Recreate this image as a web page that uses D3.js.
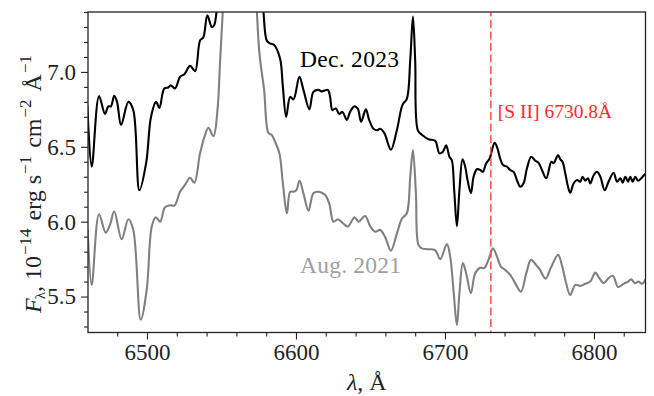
<!DOCTYPE html>
<html>
<head>
<meta charset="utf-8">
<script src="https://cdn.jsdelivr.net/npm/d3@7"></script>
<style>
  html, body { margin: 0; padding: 0; background: #fff; }
  svg { display: block; }
  text { font-family: "Liberation Serif", "Times New Roman", serif; }
</style>
</head>
<body>
<svg id="chart" width="654" height="396"></svg>
<script>
// ---- data ----
const decWave = [6460.0,6462.9,6467.8,6471.8,6474.0,6475.8,6478.0,6479.9,6482.6,6487.5,6490.8,6494.9,6499.4,6502.7,6506.1,6508.3,6511.6,6514.3,6515.9,6518.8,6522.2,6525.1,6528.9,6532.3,6535.6,6537.8,6540.5,6543.5,6545.0,6546.8,6552,6558,6563,6568,6574,6578.1,6580.4,6582.6,6585.3,6589.3,6591.2,6593.4,6596.1,6598.3,6602.3,6605.0,6609.0,6611.7,6615.1,6617.3,6621.4,6622.9,6624.5,6626.7,6629.0,6631.2,6634.1,6636.3,6639.2,6641.5,6643.7,6646.9,6649.1,6652.0,6654.3,6656.5,6659.4,6663.7,6667.7,6671.5,6674.4,6676.7,6678.5,6680.0,6681.8,6684.5,6688.9,6693.4,6696.3,6698.6,6700.8,6703.0,6704.6,6706.2,6708.0,6709.7,6711.8,6713.6,6715.1,6717.4,6719.2,6721.4,6723.7,6725.4,6727.7,6729.9,6733.3,6734.9,6737.1,6738.9,6741.6,6743.8,6746.0,6748.7,6750.5,6752.7,6755.0,6757.9,6760.6,6762.8,6765.1,6768.0,6771.4,6772.9,6774.5,6775.9,6777.4,6778.9,6780.8,6782.6,6784.1,6786.3,6788.6,6790.8,6792.4,6794.2,6796.0,6797.5,6799.8,6802.0,6804.3,6807.2,6809.8,6813.2,6815.5,6817.7,6819.3,6821.1,6822.9,6824.4,6826.0,6827.8,6829.6,6831.8,6834.5];
const decFlux = [6.77,6.367,6.838,6.72,6.77,6.77,6.84,6.80,6.645,6.80,6.745,6.21,6.39,6.70,6.80,6.76,6.89,6.896,6.91,6.89,6.967,6.985,7.04,7.005,7.21,7.23,7.378,7.30,7.31,7.41,7.9,8.6,9.0,8.7,7.9,7.41,7.21,7.19,7.18,7.09,6.90,6.70,6.833,6.816,6.967,6.88,6.75,6.867,6.88,6.87,6.88,6.833,6.745,6.756,6.72,6.733,6.68,6.733,6.77,6.755,6.667,6.75,6.68,6.62,6.61,6.62,6.59,6.48,6.61,6.78,6.82,7.08,7.37,7.08,6.61,6.58,6.55,6.54,6.456,6.467,6.51,6.433,6.41,6.21,5.97,6.21,6.416,6.367,6.28,6.19,6.30,6.35,6.345,6.333,6.39,6.42,6.527,6.50,6.42,6.378,6.367,6.345,6.333,6.267,6.233,6.255,6.355,6.433,6.407,6.393,6.345,6.29,6.40,6.39,6.42,6.445,6.416,6.40,6.32,6.233,6.193,6.255,6.278,6.267,6.30,6.273,6.29,6.255,6.31,6.333,6.30,6.21,6.267,6.327,6.267,6.29,6.26,6.30,6.267,6.30,6.267,6.30,6.273,6.29,6.32];

const augWave = [6460.2,6462.9,6467.8,6472.3,6475.2,6478.0,6483.0,6487.5,6490.8,6495.8,6499.8,6503.2,6505.9,6508.8,6512.1,6515.5,6518.4,6522.2,6525.5,6528.9,6531.8,6535.6,6539.0,6541.2,6544.6,6547.3,6549.1,6550.9,6555,6561,6567,6571,6573.7,6575.5,6578.6,6581.5,6583.8,6586.0,6588.9,6591.2,6593.9,6596.1,6598.3,6600.2,6602.4,6605.0,6608.4,6611.7,6615.1,6619.6,6622.3,6625.2,6628.2,6631.2,6634.8,6639.3,6641.9,6646.4,6649.8,6653.2,6656.5,6659.9,6663.7,6667.7,6671.1,6674.4,6676.7,6678.5,6680.5,6682.2,6684.5,6688.5,6693.4,6696.8,6701.3,6703.5,6705.7,6708.0,6709.7,6712.0,6714.2,6717.4,6720.3,6723.7,6726.3,6729.2,6732.2,6734.9,6737.5,6740.4,6743.8,6747.1,6751.0,6754.6,6757.7,6760.6,6763.5,6767.5,6771.0,6775.9,6778.5,6781.3,6784.1,6787.5,6790.8,6794.2,6797.5,6800.9,6803.6,6806.5,6809.8,6812.8,6816.2,6819.9,6822.9,6825.1,6827.4,6830.0,6832.3,6834.5];
const augFlux = [5.945,5.578,6.05,5.927,5.98,6.07,5.883,6.016,5.945,5.345,5.545,5.967,6.03,6.00,6.096,6.11,6.107,6.20,6.245,6.293,6.26,6.456,6.58,6.627,6.571,6.745,7.08,7.41,8.3,9.2,8.8,7.9,7.41,7.12,6.88,6.593,6.578,6.533,6.456,6.256,6.056,6.20,6.20,6.21,6.273,6.19,6.073,6.19,6.20,6.178,6.122,6.00,6.016,5.993,5.967,6.03,6.00,6.038,5.97,5.933,5.945,5.896,5.807,5.92,6.02,6.056,6.30,6.478,6.19,5.845,5.822,5.816,5.81,5.75,5.85,5.767,5.545,5.31,5.523,5.723,5.656,5.523,5.656,5.693,5.69,5.745,5.822,5.767,5.70,5.678,5.645,5.59,5.533,5.656,5.745,5.718,5.683,5.62,5.69,5.778,5.71,5.59,5.51,5.578,5.571,5.585,5.60,5.66,5.623,5.59,5.623,5.638,5.563,5.585,5.60,5.615,5.59,5.60,5.585,5.615];

const xMajorTicks = [6500, 6600, 6700, 6800];
const xMinorTicks = [6480, 6520, 6540, 6560, 6580, 6620, 6640, 6660, 6680, 6720, 6740, 6760, 6780, 6820];
const yMajorTicks = [5.5, 6.0, 6.5, 7.0];
const yMinorTicks = [5.3, 5.4, 5.6, 5.7, 5.8, 5.9, 6.1, 6.2, 6.3, 6.4, 6.6, 6.7, 6.8, 6.9, 7.1, 7.2, 7.3, 7.4];
const seriesLabels = ["Dec. 2023", "Aug. 2021"];
const lineWave = 6730.8;
const lineLabel = "[S II] 6730.8Å";

// ---- layout ----
const svg = d3.select("#chart");
const L = 88, R = 645.5, T = 12, B = 332.5;
const x = d3.scaleLinear().domain([6460.4, 6834.6]).range([L, R]);
const y = d3.scaleLinear().domain([5.26, 7.40]).range([B, T]);

svg.append("defs").append("clipPath").attr("id", "clip")
  .append("rect").attr("x", L).attr("y", T).attr("width", R - L).attr("height", B - T);

const plot = svg.append("g").attr("clip-path", "url(#clip)");

const line = d3.line().x(d => x(d[0])).y(d => y(d[1])).curve(d3.curveCatmullRom.alpha(0.5));

plot.append("path")
  .datum(augWave.map((w, i) => [w, augFlux[i]]))
  .attr("d", line).attr("fill", "none").attr("stroke", "#808080")
  .attr("stroke-width", 2.1).attr("stroke-linejoin", "round");

plot.append("path")
  .datum(decWave.map((w, i) => [w, decFlux[i]]))
  .attr("d", line).attr("fill", "none").attr("stroke", "#000")
  .attr("stroke-width", 2.1).attr("stroke-linejoin", "round");

// [S II] marker
plot.append("line")
  .attr("x1", x(lineWave)).attr("x2", x(lineWave))
  .attr("y1", T).attr("y2", B)
  .attr("stroke", "#ff4a4a").attr("stroke-width", 1.5)
  .attr("stroke-dasharray", "8,3.5").attr("stroke-dashoffset", -8);

svg.append("text").attr("x", x(lineWave) + 7).attr("y", 118)
  .attr("fill", "#ff2a2a").attr("font-size", 19.5).text(lineLabel);

svg.append("text").attr("x", 300).attr("y", 67)
  .attr("fill", "#000").attr("font-size", 23.5).attr("textLength", 99).text(seriesLabels[0]);
svg.append("text").attr("x", 300).attr("y", 273)
  .attr("fill", "#a0a0a0").attr("font-size", 23.5).attr("textLength", 101).text(seriesLabels[1]);

// ---- axes ----
const ax = svg.append("g");
const xAxisMajor = d3.axisBottom(x).tickValues(xMajorTicks).tickSize(7).tickPadding(4).tickFormat(d3.format("d"));
const xAxisMinor = d3.axisBottom(x).tickValues(xMinorTicks).tickSize(4).tickFormat("");
const yAxisMajor = d3.axisLeft(y).tickValues(yMajorTicks).tickSize(7).tickPadding(5).tickFormat(d3.format(".1f"));
const yAxisMinor = d3.axisLeft(y).tickValues(yMinorTicks).tickSize(4).tickFormat("");

function styleAxis(g) {
  g.select(".domain").remove();
  g.selectAll(".tick line").attr("stroke", "#222").attr("stroke-width", 1.1);
  g.selectAll(".tick text").attr("font-family", "Liberation Serif, serif").attr("font-size", 23).attr("fill", "#222");
}
ax.append("g").attr("transform", `translate(0,${B})`).call(xAxisMajor).call(styleAxis);
ax.append("g").attr("transform", `translate(0,${B})`).call(xAxisMinor).call(styleAxis);
ax.append("g").attr("transform", `translate(${L},0)`).call(yAxisMajor).call(styleAxis);
ax.append("g").attr("transform", `translate(${L},0)`).call(yAxisMinor).call(styleAxis);

svg.append("rect").attr("x", L).attr("y", T).attr("width", R - L).attr("height", B - T)
  .attr("fill", "none").attr("stroke", "#222").attr("stroke-width", 1.3);

// x label
const xl = svg.append("text").attr("x", (L + R) / 2).attr("y", 390)
  .attr("text-anchor", "middle").attr("font-size", 24).attr("fill", "#222");
xl.append("tspan").attr("font-style", "italic").text("λ");
xl.append("tspan").text(", Å");

// y label
const yl = svg.append("text").attr("transform", "rotate(-90)")
  .attr("x", -184).attr("y", 41).attr("text-anchor", "middle")
  .attr("font-size", 24).attr("fill", "#222");
function part(txt, opt) {
  const t = yl.append("tspan").text(txt);
  if (opt && opt.italic) t.attr("font-style", "italic");
  if (opt && opt.size) t.attr("font-size", opt.size);
  if (opt && opt.dy) t.attr("dy", opt.dy);
  if (opt && opt.dx) t.attr("dx", opt.dx);
  return t;
}
part("F", {italic: true});
part("λ", {size: 15, dy: 3.5, dx: -1});
part(", 10", {dy: -3.5});
part("−14", {size: 17, dy: -10, dx: 1});
part(" erg s", {dy: 10, dx: 2});
part("−1", {size: 17, dy: -10, dx: 1});
part(" cm", {dy: 10, dx: 2});
part("−2", {size: 17, dy: -10, dx: 1});
part(" Å", {dy: 10, dx: 2});
part("−1", {size: 17, dy: -10, dx: 1});
</script>
</body>
</html>
